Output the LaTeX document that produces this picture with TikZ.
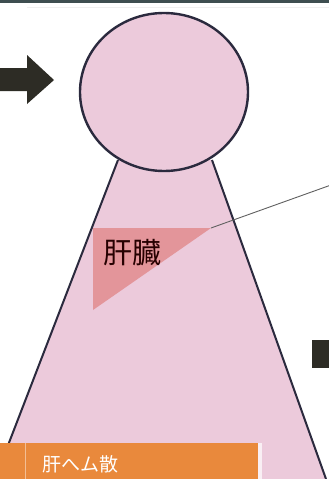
\documentclass[tikz,border=0pt]{standalone}
\usepackage{fontspec}
\newfontfamily\jpfont{Noto Sans CJK JP}
\usetikzlibrary{shapes.geometric}
\definecolor{bodypink}{HTML}{ECCADB}
\definecolor{outline}{HTML}{2B2A3E}
\definecolor{liverred}{HTML}{E3959A}
\definecolor{darkmark}{HTML}{2D2C25}
\definecolor{barorange}{HTML}{E9893C}
\definecolor{toprule}{HTML}{3E4E50}
\tikzset{
  head/.style={ellipse, fill=bodypink, draw=outline, line width=2.4pt,
    minimum width=168pt, minimum height=158pt, inner sep=0pt},
  side/.style={draw=outline, line width=2pt},
  leader/.style={draw=gray!75!black, line width=0.9pt},
  liverlabel/.style={font=\jpfont\fontsize{29}{29}\selectfont, text=black!85!red, inner sep=0pt},
  barlabel/.style={font=\jpfont\fontsize{19}{19}\selectfont, text=white, inner sep=0pt, anchor=west},
}
\begin{document}
\begin{tikzpicture}[x=1pt,y=-1pt]
\useasboundingbox (0,0) rectangle (329,479);
\fill[white] (0,0) rectangle (329,479);
% top rule
\fill[toprule] (0,0) rectangle (329,2.5);
\draw[gray!12, line width=1pt] (27,7) -- (329,7);
% body trunk
\coordinate (tl) at (118,160);
\coordinate (tr) at (212,160);
\coordinate (bl) at (-5,479);
\coordinate (br) at (326,479);
\fill[bodypink] (tl) -- (tr) -- (br) -- (bl) -- cycle;
\draw[side] (tl) -- (bl);
\draw[side] (tr) -- (br);
% head
\node[head] (head) at (164,92) {};
% liver
\coordinate (lv1) at (93,228);
\coordinate (lv2) at (211,228);
\coordinate (lv3) at (93,310);
\fill[liverred] (lv1) -- (lv2) -- (lv3) -- cycle;
\node[liverlabel] (liver) at (132,253) {肝臓};
\coordinate (leadend) at (331,185);
\draw[leader] (lv2) -- (leadend);
% arrow pointing at the head
\fill[darkmark] (0,68) -- (27,68) -- (27,55) -- (54,80) -- (27,104) -- (27,91) -- (0,91) -- cycle;
% square marker at the right edge
\fill[darkmark] (312,340) rectangle (332,368);
% caption bar
\fill[barorange] (0,443) rectangle (258,479);
\draw[barorange!55!white, line width=1pt] (25,443) -- (25,479);
\fill[white!70!bodypink] (258,443) rectangle (262,479);
\node[barlabel] (caption) at (42,464) {肝へム散};
\end{tikzpicture}
\end{document}
